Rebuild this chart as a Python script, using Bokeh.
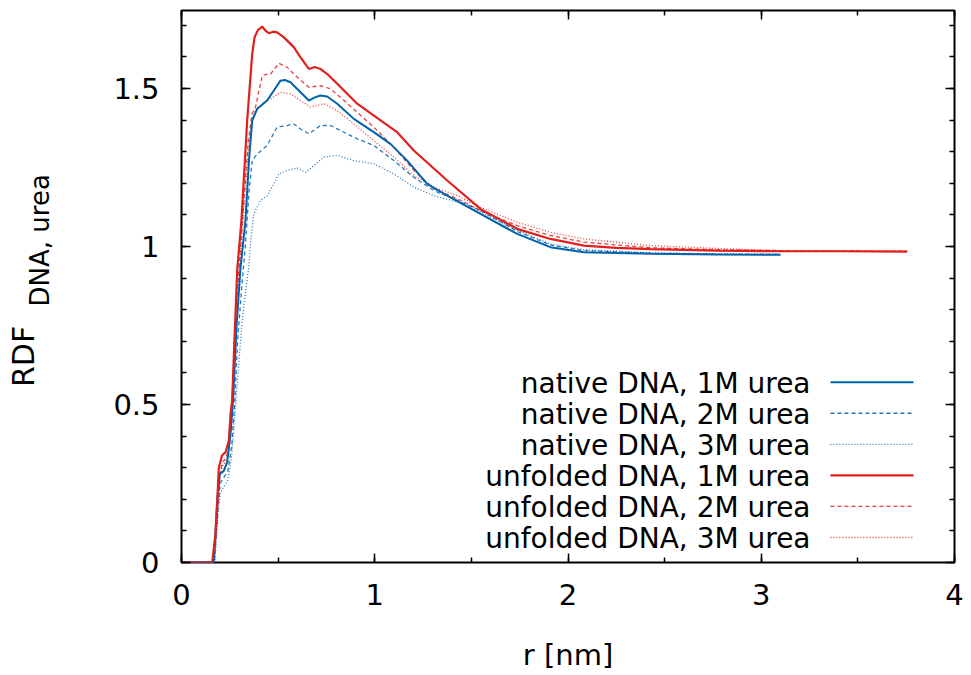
import numpy as np
from bokeh.plotting import figure
from bokeh.layouts import row
from bokeh.models import Range1d, LinearAxis, FixedTicker, Label, Arrow, CustomJSTickFormatter
from bokeh.embed import file_html
from bokeh.resources import INLINE

# ---------------- data ----------------
R_NATIVE_1M = [0, 0.15, 0.167, 0.185, 0.198, 0.219, 0.236, 0.254, 0.267, 0.285, 0.305, 0.331, 0.35, 0.366,
               0.392, 0.443, 0.478, 0.512, 0.535, 0.564, 0.607, 0.659, 0.69, 0.719, 0.754, 0.806, 0.892,
               0.995, 1.081, 1.168, 1.271, 1.375, 1.547, 1.737, 1.909, 2.082, 2.427, 2.772, 3.1]
G_NATIVE_1M = [0, 0, 0, 0.196, 0.28, 0.29, 0.317, 0.408, 0.513, 0.75, 0.93, 1.082, 1.28, 1.399,
               1.436, 1.462, 1.494, 1.525, 1.527, 1.52, 1.494, 1.462, 1.472, 1.478, 1.475, 1.452, 1.404,
               1.362, 1.325, 1.272, 1.198, 1.161, 1.103, 1.040, 0.998, 0.982, 0.977, 0.975, 0.974]

R_NATIVE_2M = [0, 0.15, 0.17, 0.19, 0.2, 0.22, 0.24, 0.26, 0.275, 0.29, 0.31, 0.33, 0.35, 0.366, 0.392,
               0.443, 0.495, 0.547, 0.581, 0.616, 0.659, 0.69, 0.719, 0.771, 0.823, 0.909, 0.995, 1.099,
               1.202, 1.306, 1.427, 1.547, 1.737, 1.909, 2.082, 2.427, 2.772, 3.1]
G_NATIVE_2M = [0, 0, 0, 0.18, 0.25, 0.27, 0.29, 0.37, 0.5, 0.7, 0.86, 1.0, 1.18, 1.272, 1.293,
               1.320, 1.378, 1.383, 1.388, 1.372, 1.357, 1.37, 1.383, 1.383, 1.367, 1.341, 1.320, 1.272,
               1.219, 1.177, 1.146, 1.114, 1.048, 1.005, 0.987, 0.979, 0.976, 0.975]

R_NATIVE_3M = [0, 0.15, 0.172, 0.19, 0.2, 0.22, 0.24, 0.26, 0.28, 0.3, 0.32, 0.348, 0.36, 0.374, 0.409,
               0.443, 0.478, 0.504, 0.547, 0.599, 0.642, 0.685, 0.736, 0.806, 0.892, 0.995, 1.099, 1.202,
               1.306, 1.427, 1.547, 1.737, 1.909, 2.082, 2.427, 2.772, 3.1]
G_NATIVE_3M = [0, 0, 0, 0.16, 0.22, 0.24, 0.26, 0.34, 0.5, 0.66, 0.8, 0.934, 1.03, 1.103, 1.146,
               1.161, 1.198, 1.230, 1.241, 1.249, 1.235, 1.256, 1.283, 1.288, 1.272, 1.262, 1.230, 1.188,
               1.161, 1.141, 1.109, 1.052, 1.008, 0.99, 0.98, 0.977, 0.975]

R_UNFOLDED_1M = [0, 0.14, 0.159, 0.176, 0.185, 0.193, 0.21, 0.228, 0.245, 0.254, 0.262, 0.275, 0.288, 0.31,
                 0.34, 0.366, 0.378, 0.395, 0.418, 0.435, 0.452, 0.475, 0.495, 0.53, 0.581, 0.616, 0.659,
                 0.69, 0.719, 0.754, 0.806, 0.909, 1.03, 1.116, 1.202, 1.375, 1.547, 1.737, 1.909, 2.082,
                 2.25, 2.427, 2.772, 3.1, 3.4, 3.755]
G_UNFOLDED_1M = [0, 0, 0, 0.092, 0.196, 0.30, 0.339, 0.349, 0.386, 0.47, 0.513, 0.72, 0.924, 1.082,
                 1.40, 1.61, 1.662, 1.685, 1.696, 1.683, 1.675, 1.68, 1.678, 1.662, 1.631, 1.599, 1.562,
                 1.568, 1.562, 1.546, 1.515, 1.452, 1.399, 1.362, 1.304, 1.209, 1.119, 1.056, 1.024, 1.003,
                 0.996, 0.992, 0.987, 0.985, 0.985, 0.984]

R_UNFOLDED_2M = [0, 0.15, 0.165, 0.18, 0.19, 0.2, 0.215, 0.23, 0.245, 0.26, 0.28, 0.3, 0.32, 0.345, 0.365,
                 0.383, 0.40, 0.418, 0.44, 0.461, 0.504, 0.547, 0.599, 0.659, 0.719, 0.771, 0.823, 0.909,
                 0.995, 1.099, 1.202, 1.306, 1.427, 1.547, 1.737, 1.909, 2.082, 2.427, 2.772, 3.1, 3.755]
G_UNFOLDED_2M = [0, 0, 0, 0.1, 0.2, 0.29, 0.32, 0.33, 0.36, 0.48, 0.78, 0.95, 1.12, 1.33, 1.42,
                 1.441, 1.49, 1.541, 1.545, 1.546, 1.580, 1.567, 1.536, 1.504, 1.509, 1.499, 1.472, 1.425,
                 1.378, 1.314, 1.241, 1.183, 1.151, 1.114, 1.066, 1.035, 1.014, 0.996, 0.99, 0.987, 0.985]

R_UNFOLDED_3M = [0, 0.15, 0.165, 0.18, 0.19, 0.2, 0.215, 0.23, 0.245, 0.26, 0.28, 0.3, 0.32, 0.345, 0.365,
                 0.378, 0.40, 0.426, 0.461, 0.512, 0.564, 0.616, 0.668, 0.736, 0.806, 0.892, 0.995, 1.099,
                 1.202, 1.306, 1.427, 1.547, 1.737, 1.909, 2.082, 2.427, 2.772, 3.1, 3.755]
G_UNFOLDED_3M = [0, 0, 0, 0.1, 0.2, 0.28, 0.31, 0.32, 0.35, 0.46, 0.76, 0.93, 1.10, 1.30, 1.40,
                 1.425, 1.44, 1.457, 1.467, 1.488, 1.483, 1.462, 1.441, 1.452, 1.430, 1.388, 1.335, 1.283,
                 1.225, 1.188, 1.161, 1.124, 1.077, 1.045, 1.024, 1.003, 0.994, 0.987, 0.985]

SERIES_NAMES = ["native DNA, 1M urea", "native DNA, 2M urea", "native DNA, 3M urea",
                "unfolded DNA, 1M urea", "unfolded DNA, 2M urea", "unfolded DNA, 3M urea"]

X_TICKS = [0, 1, 2, 3, 4]
X_TICK_LABELS = ["0", "1", "2", "3", "4"]
Y_TICKS = [0, 0.5, 1, 1.5]
Y_TICK_LABELS = ["0", "0.5", "1", "1.5"]
X_LABEL = "r [nm]"
Y_LABEL_MAIN = "RDF"
Y_LABEL_SUB = "DNA, urea"

# ---------------- styling ----------------
BLUE = "#0062ad"
RED = "#e0201c"
FONT = "DejaVu Sans"
STYLES = [
    dict(color=BLUE, width=2.0, dash="solid", alpha=1.0),
    dict(color=BLUE, width=1.3, dash="4 3", alpha=0.85),
    dict(color=BLUE, width=1.3, dash="1 2", alpha=0.85),
    dict(color=RED, width=2.2, dash="solid", alpha=1.0),
    dict(color=RED, width=1.3, dash="4 3", alpha=0.85),
    dict(color=RED, width=1.3, dash="1 2", alpha=0.85),
]
DATA = [(R_NATIVE_1M, G_NATIVE_1M), (R_NATIVE_2M, G_NATIVE_2M), (R_NATIVE_3M, G_NATIVE_3M),
        (R_UNFOLDED_1M, G_UNFOLDED_1M), (R_UNFOLDED_2M, G_UNFOLDED_2M), (R_UNFOLDED_3M, G_UNFOLDED_3M)]

W_TOTAL, H_TOTAL = 971, 675
W_LABEL = 60  # narrow strip on the left holding the rotated y-axis title

# --- strip for the y-axis title (pixel-mapped ranges) ---
lab = figure(width=W_LABEL, height=H_TOTAL, output_backend="svg", toolbar_location=None,
             x_range=Range1d(0, W_LABEL), y_range=Range1d(0, H_TOTAL),
             min_border=0, min_border_left=0, min_border_right=0, min_border_top=0, min_border_bottom=0)
lab.axis.visible = False
lab.grid.visible = False
lab.outline_line_color = None
lab.background_fill_color = "white"
lab.border_fill_color = "white"
lab.add_layout(Label(x=23, y=252, text=Y_LABEL_MAIN, angle=np.pi / 2,
                     text_align="center", text_baseline="middle",
                     text_font=FONT, text_font_size="30px", text_color="black"))
lab.add_layout(Label(x=39, y=394, text=Y_LABEL_SUB, angle=np.pi / 2,
                     text_align="center", text_baseline="middle",
                     text_font=FONT, text_font_size="26px", text_color="black"))

# --- main plot ---
p = figure(width=W_TOTAL - W_LABEL, height=H_TOTAL, output_backend="svg", toolbar_location=None,
           x_range=Range1d(0, 4), y_range=Range1d(0, 1.747),
           min_border_left=181 - W_LABEL, min_border_right=W_TOTAL - 954,
           min_border_top=10, min_border_bottom=H_TOTAL - 562)
p.grid.visible = False
p.outline_line_color = "black"
p.outline_line_width = 2
p.outline_line_alpha = 1.0
p.background_fill_color = "white"
p.border_fill_color = "white"

order = [2, 1, 5, 4, 0, 3]
for i in order:
    r, g = DATA[i]
    st = STYLES[i]
    p.line(r, g, line_color=st["color"], line_width=st["width"], line_dash=st["dash"],
           line_alpha=st["alpha"])

x_minor = list(np.arange(0, 4.01, 0.5))
y_minor = list(np.round(np.arange(0, 1.75, 0.1), 2))


def style_axis(ax, ticks, minor, labels, show):
    ax.ticker = FixedTicker(ticks=ticks, minor_ticks=minor)
    ax.axis_line_color = None
    ax.major_tick_in = 9
    ax.major_tick_out = 0
    ax.minor_tick_in = 5
    ax.minor_tick_out = 0
    ax.major_tick_line_color = "black"
    ax.minor_tick_line_color = "black"
    ax.major_tick_line_width = 1.5
    ax.minor_tick_line_width = 1.5
    if show:
        ax.major_label_overrides = {t: l for t, l in zip(ticks, labels)}
        ax.major_label_text_font = FONT
        ax.major_label_text_font_size = "29px"
        ax.major_label_text_color = "black"
    else:
        ax.formatter = CustomJSTickFormatter(code="return ''")
        ax.major_label_text_font_size = "0px"
        ax.major_label_standoff = 0


xb = p.xaxis[0]
style_axis(xb, X_TICKS, x_minor, X_TICK_LABELS, True)
xb.major_label_standoff = 21
xb.axis_label = X_LABEL
xb.axis_label_text_font = FONT
xb.axis_label_text_font_size = "29px"
xb.axis_label_text_font_style = "normal"
xb.axis_label_text_color = "black"
xb.axis_label_standoff = 30

yl = p.yaxis[0]
style_axis(yl, Y_TICKS, y_minor, Y_TICK_LABELS, True)
yl.major_label_standoff = 22

xt = LinearAxis()
style_axis(xt, X_TICKS, x_minor, X_TICK_LABELS, False)
p.add_layout(xt, "above")
yr = LinearAxis()
style_axis(yr, Y_TICKS, y_minor, Y_TICK_LABELS, False)
p.add_layout(yr, "right")

# key (gnuplot style: text right-aligned, sample to the right)
KEY_TEXT_X = 3.255
KEY_LINE_X0 = 3.358
KEY_LINE_X1 = 3.788
KEY_Y0 = 0.5706
KEY_STEP = 0.0983
for i, name in enumerate(SERIES_NAMES):
    yk = KEY_Y0 - i * KEY_STEP
    st = STYLES[i]
    p.add_layout(Label(x=KEY_TEXT_X, y=yk - 0.004, text=name, text_align="right",
                       text_baseline="middle", text_font=FONT, text_font_size="28px",
                       text_color="black"))
    p.add_layout(Arrow(end=None, start=None, x_start=KEY_LINE_X0, y_start=yk,
                       x_end=KEY_LINE_X1, y_end=yk, line_color=st["color"],
                       line_width=st["width"], line_dash=st["dash"], line_alpha=st["alpha"]))

layout = row(lab, p)
open("out.html", "w").write(file_html(layout, INLINE))
